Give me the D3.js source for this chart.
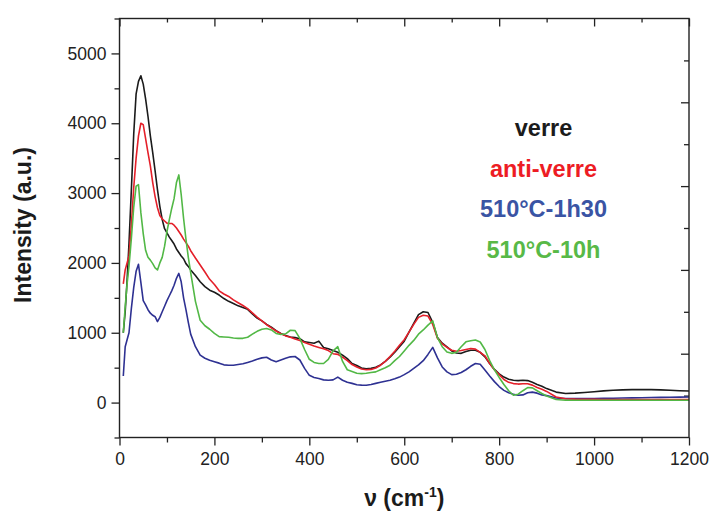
<!DOCTYPE html>
<html>
<head>
<meta charset="utf-8">
<script src="https://cdn.jsdelivr.net/npm/d3@7"></script>
<style>
  html, body { margin: 0; padding: 0; background: #fff; }
  text { font-family: "Liberation Sans", Arial, sans-serif; }
</style>
</head>
<body>
<svg id="chart" width="710" height="512"></svg>
<script>
// ---- data ----
const wavenumbers = [8,12,16,20,25,30,35,40,45,50,55,60,65,70,75,80,85,90,95,100,105,110,115,120,125,130,135,140,145,150,
  160,170,180,190,200,210,220,230,240,250,260,270,280,290,300,310,320,330,340,350,360,370,380,390,400,410,420,430,440,450,
  460,470,480,490,500,510,520,530,540,550,560,570,580,590,600,610,620,630,640,650,660,670,680,690,700,710,720,730,740,750,
  760,770,780,790,800,810,820,830,840,850,860,870,880,890,900,920,940,960,980,1000,1020,1040,1060,1080,1100,1120,1140,1160,1180,1200];

const verre = [1000,1300,1750,2280,3050,3850,4420,4600,4680,4560,4350,4100,3820,3580,3320,3050,2810,2620,2490,2430,2370,2320,2270,2200,2150,2100,2060,1990,1950,1900,
  1820,1730,1660,1610,1580,1540,1490,1450,1420,1385,1360,1335,1270,1210,1170,1120,1080,1030,990,960,940,930,915,870,860,850,880,790,770,745,
  720,680,630,560,530,495,485,490,505,540,590,650,720,800,880,1010,1135,1260,1300,1290,1150,930,850,797,740,710,705,730,750,750,
  720,655,560,475,410,365,335,320,315,320,315,290,260,235,200,150,130,135,145,155,168,176,182,186,188,186,182,176,170,165];

const antiVerre = [1700,1900,2000,2100,2550,3080,3500,3820,4000,3980,3780,3580,3390,3150,2950,2790,2680,2630,2600,2570,2565,2565,2540,2500,2450,2400,2340,2290,2240,2175,
  2070,1970,1870,1765,1690,1600,1555,1520,1470,1430,1390,1345,1285,1225,1170,1115,1070,1025,985,955,935,910,890,860,835,810,790,770,745,700,
  690,650,600,545,510,480,470,475,495,535,590,660,735,820,900,1010,1120,1220,1250,1240,1120,920,840,790,750,735,745,760,775,765,
  720,670,560,470,400,330,290,272,265,270,270,250,215,190,160,80,55,50,48,46,45,44,44,43,43,43,43,43,43,43];

const c510_1h30 = [380,800,900,1000,1350,1650,1880,1980,1720,1460,1400,1330,1280,1250,1230,1160,1220,1300,1380,1460,1530,1600,1680,1780,1850,1730,1500,1330,1150,980,
  800,680,635,605,585,565,540,535,535,545,555,575,595,620,640,650,610,585,610,635,655,660,610,490,390,360,345,325,320,325,
  365,320,290,275,255,250,248,260,275,290,305,320,340,365,400,440,490,540,600,690,790,640,510,440,400,405,430,470,520,560,
  550,465,380,300,230,175,140,120,105,110,140,150,135,110,100,65,57,57,57,58,60,62,65,68,70,72,74,76,78,80];

const c510_10h = [1000,1370,1700,1950,2350,2800,3100,3120,2720,2420,2180,2080,2040,1990,1930,1900,2000,2080,2240,2450,2620,2780,2920,3150,3260,2980,2640,2340,2080,1860,
  1450,1180,1100,1050,990,945,940,935,925,920,920,935,980,1020,1050,1060,1040,990,975,985,1036,1030,920,760,620,575,560,560,620,740,
  800,590,470,445,420,415,420,430,440,470,500,535,600,660,740,820,890,980,1040,1110,1170,930,800,725,705,720,800,870,885,895,
  868,760,600,470,360,260,170,105,120,170,215,210,170,130,95,45,33,33,33,33,33,33,33,33,33,33,33,33,33,33];

const seriesNames = ["verre", "anti-verre", "510°C-1h30", "510°C-10h"];
const seriesValues = [verre, antiVerre, c510_1h30, c510_10h];
const lineColors = ["#1b1b1b", "#e4202a", "#2e3192", "#52b846"];
const labelColors = ["#1b1b1b", "#ed1c24", "#3a54a4", "#58b947"];
const drawOrder = [2, 0, 1, 3];

const xTicks = [0, 200, 400, 600, 800, 1000, 1200];
const yTicks = [0, 1000, 2000, 3000, 4000, 5000];

// ---- layout ----
const pLeft = 119.5, pRight = 689, pTop = 18.5, pBottom = 437.5;
const svg = d3.select("#chart");
const x = d3.scaleLinear().domain([0, 1200]).range([pLeft, pRight]);
const y = d3.scaleLinear().domain([-500, 5500]).range([pBottom, pTop]);
const yRight = d3.scaleLinear().domain([0, 5]).range([pBottom, pTop]);

const axisColor = "#222";
const tickFont = "17.5px";

function styleAxis(g) {
  g.select(".domain").remove();
  g.selectAll("line").attr("stroke", axisColor).attr("stroke-width", 1.3);
  g.selectAll("text").attr("fill", "#222").style("font-size", tickFont)
    .style("font-family", '"Liberation Sans", Arial, sans-serif');
}

const xMinor = d3.range(100, 1200, 200);
const yMinor = d3.range(-500, 5501, 1000);

// bottom axis (outward)
svg.append("g").attr("transform", `translate(0,${pBottom})`)
  .call(d3.axisBottom(x).tickValues(xTicks).tickFormat(d3.format("d")).tickSize(8).tickPadding(7))
  .call(styleAxis);
svg.append("g").attr("transform", `translate(0,${pBottom})`)
  .call(d3.axisBottom(x).tickValues(xMinor).tickFormat("").tickSize(5))
  .call(styleAxis);
// top axis (inward)
svg.append("g").attr("transform", `translate(0,${pTop})`)
  .call(d3.axisBottom(x).tickValues(xTicks).tickFormat("").tickSize(8))
  .call(styleAxis);
svg.append("g").attr("transform", `translate(0,${pTop})`)
  .call(d3.axisBottom(x).tickValues(xMinor).tickFormat("").tickSize(4))
  .call(styleAxis);
// left axis (outward)
svg.append("g").attr("transform", `translate(${pLeft},0)`)
  .call(d3.axisLeft(y).tickValues(yTicks).tickFormat(d3.format("d")).tickSize(8).tickPadding(5))
  .call(styleAxis);
svg.append("g").attr("transform", `translate(${pLeft},0)`)
  .call(d3.axisLeft(y).tickValues(yMinor).tickFormat("").tickSize(5))
  .call(styleAxis);
// right axis (inward, own spacing as in the reference)
svg.append("g").attr("transform", `translate(${pRight},0)`)
  .call(d3.axisLeft(yRight).tickValues([1, 2, 3, 4]).tickFormat("").tickSize(8))
  .call(styleAxis);
svg.append("g").attr("transform", `translate(${pRight},0)`)
  .call(d3.axisLeft(yRight).tickValues([0.5, 1.5, 2.5, 3.5, 4.5]).tickFormat("").tickSize(5))
  .call(styleAxis);

svg.append("clipPath").attr("id", "plotclip").append("rect")
  .attr("x", pLeft).attr("y", pTop).attr("width", pRight - pLeft).attr("height", pBottom - pTop);

const line = d3.line().x(d => x(d[0])).y(d => y(d[1]));
const plot = svg.append("g").attr("clip-path", "url(#plotclip)");
drawOrder.forEach(i => {
  const pts = wavenumbers.map((w, k) => [w, seriesValues[i][k]]);
  plot.append("path").datum(pts)
    .attr("d", line)
    .attr("fill", "none")
    .attr("stroke", lineColors[i])
    .attr("stroke-width", 1.6)
    .attr("stroke-linejoin", "round");
});

svg.append("rect").attr("x", pLeft).attr("y", pTop).attr("width", pRight - pLeft).attr("height", pBottom - pTop)
  .attr("fill", "none").attr("stroke", axisColor).attr("stroke-width", 1.4);

// legend (text only)
const legendY = [127, 168, 208, 249];
seriesNames.forEach((n, i) => {
  svg.append("text").attr("x", 543.5).attr("y", legendY[i] + 8.5)
    .attr("text-anchor", "middle")
    .style("font-size", "23.5px").style("font-weight", "bold")
    .attr("fill", labelColors[i]).text(n);
});

// axis titles
const xt = svg.append("text").attr("x", x(600)).attr("y", 506)
  .attr("text-anchor", "middle").style("font-size", "23px").style("font-weight", "bold").attr("fill", "#1b1b1b");
xt.append("tspan").text("ν (cm");
xt.append("tspan").attr("dy", -9).style("font-size", "14px").text("-1");
xt.append("tspan").attr("dy", 9).text(")");

svg.append("text").attr("transform", `translate(31,${(pTop + pBottom) / 2 - 3}) rotate(-90)`)
  .attr("text-anchor", "middle").style("font-size", "23px").style("font-weight", "bold").attr("fill", "#1b1b1b")
  .text("Intensity (a.u.)");
</script>
</body>
</html>
